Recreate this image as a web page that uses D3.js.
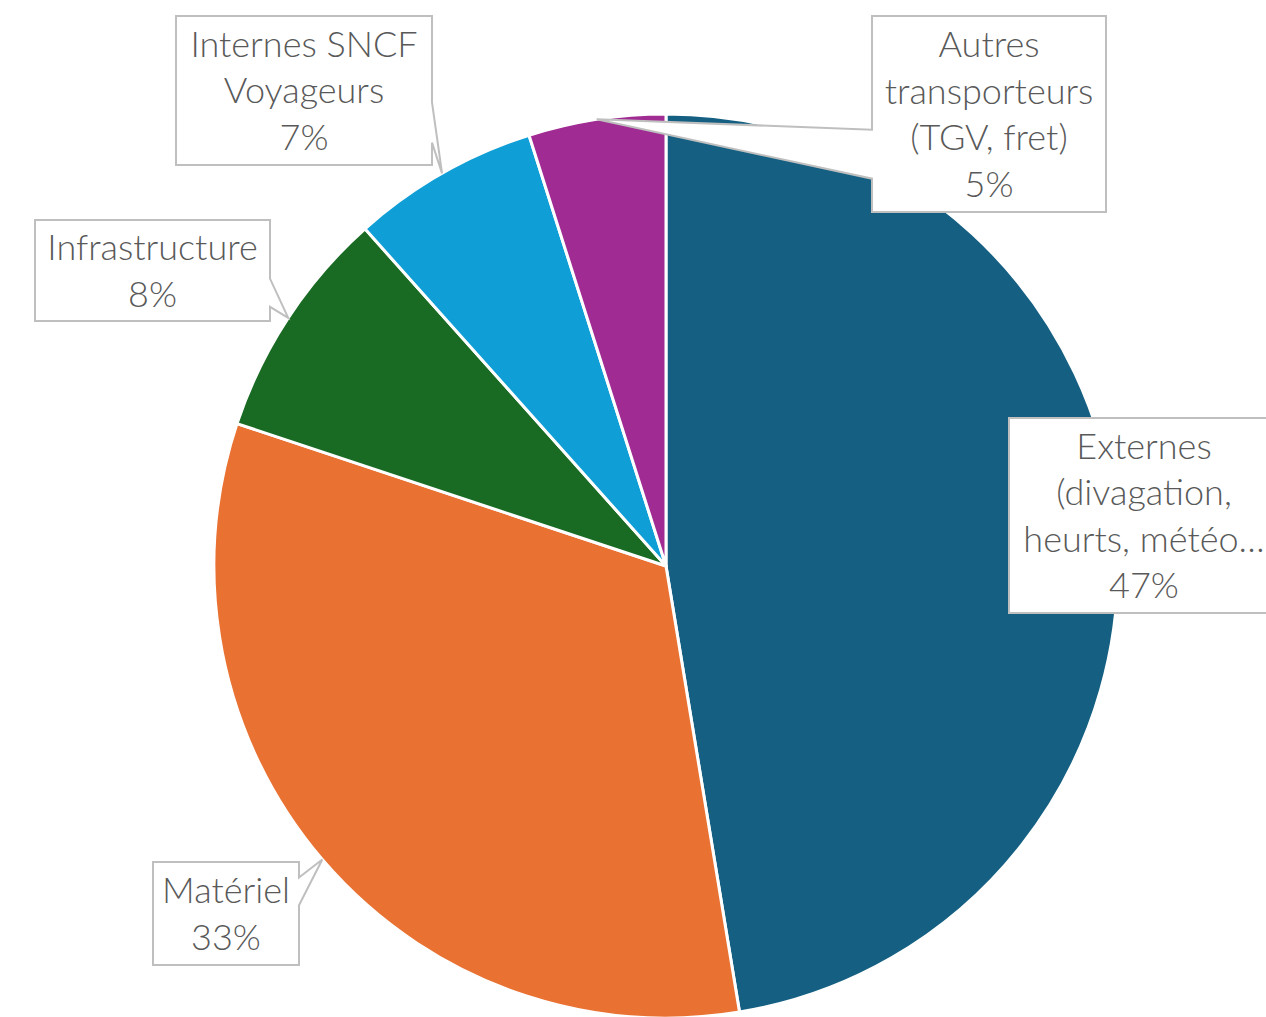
<!DOCTYPE html>
<html>
<head>
<meta charset="utf-8">
<script src="https://cdn.jsdelivr.net/npm/d3@7"></script>
<style>
    html, body { margin: 0; padding: 0; background: #fff; }
    svg { display: block; }
    .lbl { font-family: "Lato", "Open Sans", sans-serif; font-weight: 300; font-size: 36px; fill: #595959; }
</style>
</head>
<body>
<div id="chart"></div>
<script>
// data (start at 12 o'clock, clockwise)
const categories = [
    "Externes (divagation, heurts, météo…",
    "Matériel",
    "Infrastructure",
    "Internes SNCF Voyageurs",
    "Autres transporteurs (TGV, fret)"
];
const values = [47.4, 32.7, 8.3, 6.7, 4.9];
const labelLines = [
    ["Externes", "(divagation,", "heurts, météo…"],
    ["Matériel"],
    ["Infrastructure"],
    ["Internes SNCF", "Voyageurs"],
    ["Autres", "transporteurs", "(TGV, fret)"]
];
const colors = ["#156082", "#e97132", "#196b24", "#0f9ed5", "#a02b93"];

// callout layout (box + which edge the pointer leaves from)
const callouts = [
    {x: 1009, y: 418, w: 300, h: 195, side: null, cx: 1144},
    {x: 153, y: 862, w: 146, h: 103, side: "right", f: [0.15, 0.42]},
    {x: 35, y: 220, w: 235, h: 101, side: "right", f: [0.58, 0.86]},
    {x: 176, y: 16, w: 256, h: 149, side: "right", f: [0.58, 0.85]},
    {x: 872, y: 16, w: 234, h: 196, side: "left", f: [0.58, 0.83]}
];

const width = 1266, height = 1017;
const cx = 666, cy = 566, radius = 452;
const lineH = 46.5;

let svg = d3.select("#chart")
    .append("svg")
    .attr("width", width)
    .attr("height", height);

let pie = d3.pie().sort(null).value(d => d);
let arcs = pie(values);

let arc = d3.arc().innerRadius(0).outerRadius(radius);
let rim = d3.arc().innerRadius(radius).outerRadius(radius);

let g = svg.append("g").attr("transform", `translate(${cx},${cy})`);

g.selectAll("path")
    .data(arcs).enter()
    .append("path")
    .attr("d", arc)
    .attr("fill", (d, i) => colors[i])
    .attr("stroke", "#fff")
    .attr("stroke-width", 3)
    .attr("stroke-linejoin", "round");

// callout boxes
let labels = svg.append("g");

arcs.forEach((d, i) => {
    let c = callouts[i];
    let [tx, ty] = rim.centroid(d);
    tx += cx; ty += cy;

    let x0 = c.x, y0 = c.y, x1 = c.x + c.w, y1 = c.y + c.h;
    let p;
    if (c.side === "right") {
        let a = y0 + c.f[0] * c.h, b = y0 + c.f[1] * c.h;
        p = `M${x0},${y0} L${x1},${y0} L${x1},${a} L${tx},${ty} L${x1},${b} L${x1},${y1} L${x0},${y1} Z`;
    } else if (c.side === "left") {
        let a = y0 + c.f[0] * c.h, b = y0 + c.f[1] * c.h;
        p = `M${x0},${y0} L${x1},${y0} L${x1},${y1} L${x0},${y1} L${x0},${b} L${tx},${ty} L${x0},${a} Z`;
    } else {
        p = `M${x0},${y0} L${x1},${y0} L${x1},${y1} L${x0},${y1} Z`;
    }

    labels.append("path")
        .attr("d", p)
        .attr("fill", "#fff")
        .attr("stroke", "#bfbfbf")
        .attr("stroke-width", 2)
        .attr("stroke-linejoin", "miter");

    let lines = labelLines[i].concat([Math.round(values[i]) + "%"]);
    let mx = c.cx || (x0 + x1) / 2;
    let my = (y0 + y1) / 2;
    let first = my - (lines.length - 1) / 2 * lineH;

    let t = labels.append("text")
        .attr("class", "lbl")
        .attr("text-anchor", "middle");
    lines.forEach((l, k) => {
        t.append("tspan")
            .attr("x", mx)
            .attr("y", first + k * lineH)
            .attr("dy", "0.36em")
            .text(l);
    });
});
</script>
</body>
</html>
